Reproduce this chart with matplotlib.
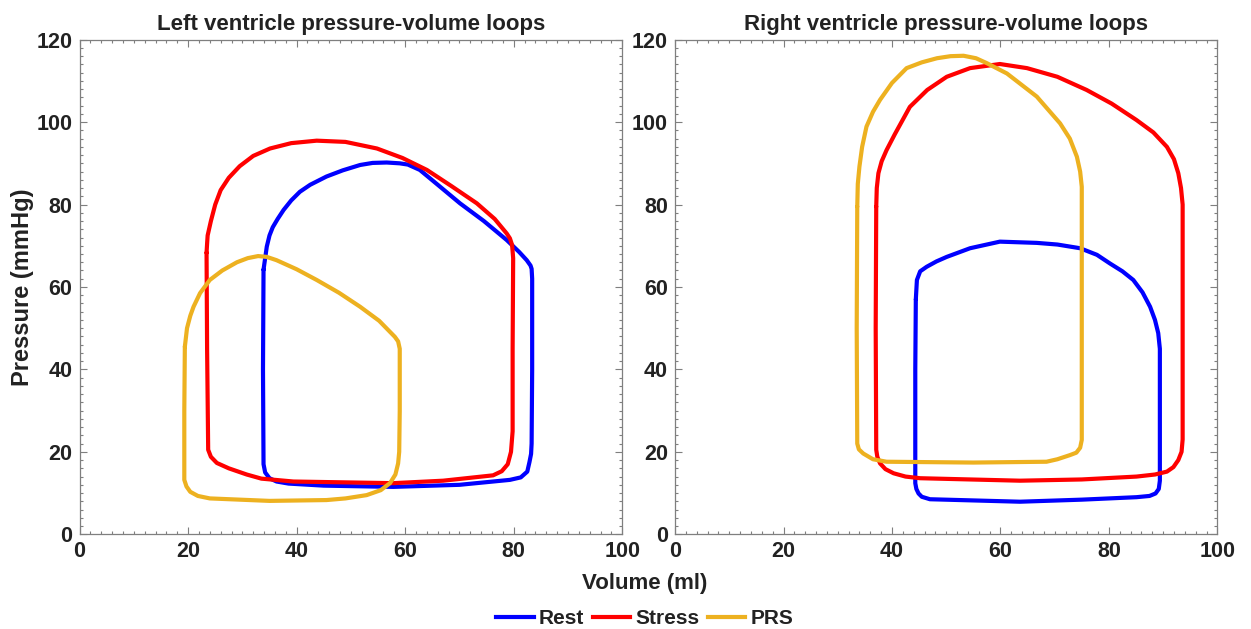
import matplotlib
matplotlib.use("Agg")
import matplotlib.pyplot as plt
from matplotlib.ticker import MultipleLocator
from matplotlib.lines import Line2D

plt.rcParams['font.family'] = ['Liberation Sans', 'DejaVu Sans']
plt.rcParams['font.weight'] = 'bold'

# ---------------- data (volume ml, pressure mmHg) ----------------
lv_rest_v = [33.9, 34.2, 34.5, 35.0, 35.6, 36.5, 37.6, 39.0, 40.6, 42.5, 45.5, 48.5, 51.7, 54.0, 56.6, 59.0,
             60.5, 62.7, 66.0, 70.1, 74.5, 78.7, 81.0, 82.4, 83.1, 83.3, 83.4,
             83.4, 83.3, 83.2, 82.9, 82.5, 81.3, 79.3, 70.0, 57.8, 45.0, 38.5, 36.3, 35.0, 34.2, 33.9, 33.8, 33.9]
lv_rest_p = [64.2, 67.0, 69.8, 72.5, 74.5, 76.5, 78.7, 81.0, 83.1, 84.8, 86.8, 88.3, 89.6, 90.1, 90.2, 90.0,
             89.7, 88.4, 84.8, 80.3, 76.0, 71.4, 68.5, 66.5, 65.2, 64.4, 62.0,
             40.0, 22.0, 19.5, 17.5, 15.2, 13.8, 13.2, 12.0, 11.5, 11.8, 12.3, 12.8, 13.6, 15.0, 17.0, 40.0, 64.2]

lv_stress_v = [23.4, 23.5, 23.6, 24.2, 25.0, 26.0, 27.5, 29.5, 32.0, 35.1, 39.0, 43.7, 49.0, 54.8, 59.5, 64.0,
               68.5, 73.2, 76.5, 78.7, 79.3, 79.7, 79.9,
               79.8, 79.8, 79.5, 78.9, 77.8, 76.2, 67.0, 57.8, 39.4, 33.5, 30.8, 27.5, 25.3, 24.2, 23.7, 23.5, 23.4]
lv_stress_p = [68.3, 70.5, 72.5, 76.0, 80.0, 83.5, 86.5, 89.3, 91.8, 93.6, 94.9, 95.5, 95.2, 93.6, 91.3, 88.4,
               84.5, 80.3, 76.5, 73.0, 71.8, 70.2, 67.0,
               45.0, 25.0, 20.0, 17.0, 15.3, 14.3, 13.0, 12.4, 12.8, 13.5, 14.5, 16.0, 17.3, 18.8, 20.5, 45.0, 68.3]

lv_prs_v = [19.4, 19.8, 20.4, 21.0, 22.2, 24.0, 26.3, 29.0, 31.0, 32.9, 34.5, 36.3, 40.0, 43.7, 47.8, 51.7,
            55.2, 58.1, 58.7, 59.0,
            59.0, 58.9, 58.7, 58.2, 57.2, 55.5, 52.9, 49.0, 45.5, 35.0, 24.0, 21.8, 20.4, 19.7, 19.3, 19.3, 19.4]
lv_prs_p = [45.5, 50.0, 53.0, 55.2, 58.5, 61.7, 64.0, 66.0, 67.0, 67.5, 67.3, 66.5, 64.3, 61.7, 58.6, 55.2,
            51.8, 47.9, 46.8, 45.0,
            30.0, 20.0, 17.2, 14.5, 12.4, 10.7, 9.5, 8.7, 8.3, 8.1, 8.7, 9.3, 10.3, 11.6, 13.2, 30.0, 45.5]

rv_rest_v = [44.4, 44.6, 45.2, 46.4, 48.2, 50.1, 54.4, 59.9, 66.7, 70.5, 74.7, 77.8, 80.2, 82.5, 84.5, 86.2,
             87.6, 88.5, 89.1, 89.4,
             89.4, 89.4, 89.2, 88.6, 87.5, 85.1, 75.0, 63.6, 47.0, 45.5, 44.9, 44.5, 44.3, 44.3, 44.4]
rv_rest_p = [57.0, 61.7, 63.8, 64.9, 66.2, 67.3, 69.4, 71.0, 70.7, 70.3, 69.4, 67.8, 65.7, 63.8, 61.7, 58.7,
             55.2, 52.0, 48.8, 45.0,
             25.0, 13.0, 11.0, 9.9, 9.3, 9.0, 8.4, 7.9, 8.5, 9.1, 9.9, 11.0, 12.4, 40.0, 57.0]

rv_stress_v = [37.1, 37.2, 37.5, 38.1, 39.0, 40.5, 43.3, 46.5, 50.1, 54.4, 59.9, 64.9, 70.5, 75.9, 80.5, 85.1,
               88.2, 90.7, 92.0, 92.8, 93.3, 93.6,
               93.6, 93.6, 93.4, 92.8, 91.9, 90.7, 88.5, 85.1, 75.0, 63.6, 45.2, 42.5, 40.3, 38.8, 37.8, 37.3,
               37.1, 37.0, 37.1]
rv_stress_p = [79.5, 84.0, 87.6, 90.5, 93.2, 97.0, 103.7, 107.8, 111.0, 113.1, 114.1, 113.1, 111.0, 107.8, 104.5,
               100.5, 97.5, 94.0, 91.0, 87.6, 84.0, 80.0,
               50.0, 23.0, 20.0, 18.0, 16.3, 15.2, 14.5, 14.0, 13.3, 13.0, 13.6, 14.0, 14.8, 15.8, 17.2, 18.8,
               20.5, 50.0, 79.5]

rv_prs_v = [33.6, 33.7, 34.0, 34.5, 35.3, 36.5, 37.8, 40.0, 42.7, 45.5, 48.3, 50.8, 53.2, 55.5, 57.5, 61.2,
            66.7, 71.0, 72.8, 74.1, 74.7, 75.0,
            75.0, 75.0, 74.7, 74.0, 72.8, 70.5, 68.5, 55.0, 39.0, 36.5, 34.7, 33.9, 33.6, 33.5, 33.6]
rv_prs_p = [79.5, 85.0, 89.2, 94.0, 98.9, 102.5, 105.4, 109.5, 113.1, 114.5, 115.5, 116.0, 116.1, 115.5, 114.3,
            111.8, 106.2, 99.7, 96.0, 91.6, 88.0, 84.3,
            50.0, 22.9, 21.0, 19.8, 19.2, 18.2, 17.6, 17.4, 17.6, 18.2, 19.6, 20.6, 22.0, 50.0, 79.5]

labels = ['Rest', 'Stress', 'PRS']
colors = ['#0000FF', '#FF0000', '#EDB120']
titles = ['Left ventricle pressure-volume loops', 'Right ventricle pressure-volume loops']
x_ticks = [0, 20, 40, 60, 80, 100]
y_ticks = [0, 20, 40, 60, 80, 100, 120]

panels = [
    [(lv_rest_v, lv_rest_p), (lv_stress_v, lv_stress_p), (lv_prs_v, lv_prs_p)],
    [(rv_rest_v, rv_rest_p), (rv_stress_v, rv_stress_p), (rv_prs_v, rv_prs_p)],
]

fig = plt.figure(figsize=(12.51, 6.29), dpi=100)
boxes = [[0.0636, 0.1506, 0.4338, 0.7863], [0.5396, 0.1506, 0.4335, 0.7863]]
frame_col = '#7f7f7f'
text_col = '#222222'
for i in range(2):
    ax = fig.add_axes(boxes[i])
    for (v, p), c, lab in zip(panels[i], colors, labels):
        ax.plot(v, p, color=c, lw=3.0, solid_joinstyle='round', solid_capstyle='round', label=lab)
    ax.set_xlim(0, 100)
    ax.set_ylim(0, 120)
    ax.set_xticks(x_ticks)
    ax.set_yticks(y_ticks)
    ax.xaxis.set_minor_locator(MultipleLocator(2))
    ax.yaxis.set_minor_locator(MultipleLocator(2))
    ax.tick_params(which='both', direction='in', top=True, right=True, color=frame_col,
                   labelsize=15.5, labelcolor=text_col, width=0.8)
    ax.tick_params(which='major', length=5, pad=5)
    ax.tick_params(which='minor', length=2.5)
    for lab in ax.get_xticklabels() + ax.get_yticklabels():
        lab.set_fontweight('bold')
    for s in ax.spines.values():
        s.set_color(frame_col)
        s.set_linewidth(0.9)
    ax.set_title(titles[i], fontsize=16, fontweight='bold', pad=7, color=text_col)
    if i == 0:
        ax.set_ylabel('Pressure (mmHg)', fontsize=17, fontweight='bold', color=text_col, labelpad=2)

fig.text(0.5155, 0.073, 'Volume (ml)', ha='center', va='center', fontsize=16,
         fontweight='bold', color=text_col)
handles = [Line2D([0], [0], color=c, lw=3) for c in colors]
leg = fig.legend(handles, labels, loc='center', bbox_to_anchor=(0.5155, 0.016), ncol=3, frameon=False,
                 handlelength=1.8, handletextpad=0.25, columnspacing=0.4,
                 prop={'weight': 'bold', 'size': 15})
for t in leg.get_texts():
    t.set_color(text_col)

fig.savefig('out.png', dpi=100)
